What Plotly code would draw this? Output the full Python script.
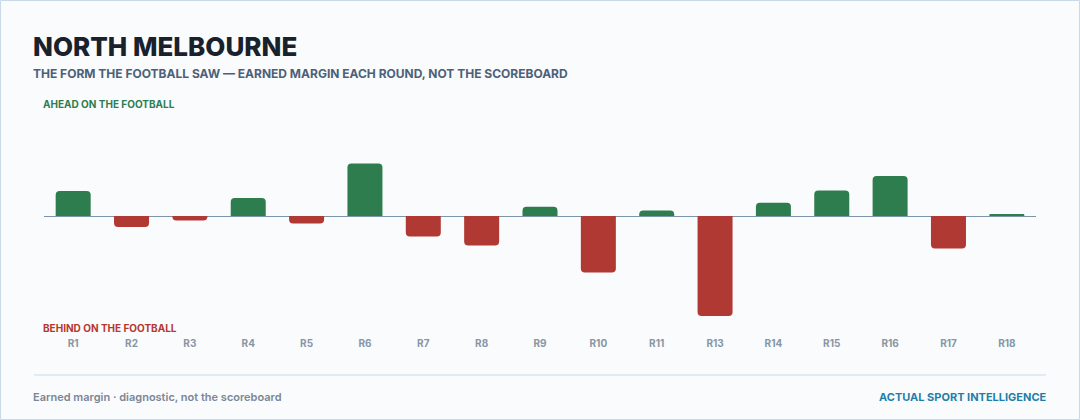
import plotly.graph_objects as go

rounds = ["R1", "R2", "R3", "R4", "R5", "R6", "R7", "R8", "R9", "R10",
          "R11", "R13", "R14", "R15", "R16", "R17", "R18"]
margins = [12.5, -5.5, -2.3, 9.0, -3.8, 26.3, -10.3, -14.8, 4.6, -28.3,
           2.8, -50.0, 6.6, 12.8, 20.0, -16.3, 0.6]

GREEN = "#2e7d4f"
RED = "#b03a33"
colors = [GREEN if v >= 0 else RED for v in margins]

W, H = 1080, 420
PL, PR, PT, PB = 44, 44, 106, 94


def px(x):
    return (x - PL) / (W - PL - PR)


def py(y):
    return (H - PB - y) / (H - PT - PB)


fig = go.Figure()
fig.add_trace(go.Bar(
    x=rounds, y=margins,
    marker=dict(color=colors, line=dict(width=0), cornerradius=4),
    hoverinfo="skip",
))

FONT = "Inter, 'Noto Sans', sans-serif"


def ann(text, x, y, size, color, weight=700, xanchor="left"):
    fig.add_annotation(text=text, x=px(x), y=py(y), xref="paper", yref="paper",
                       xanchor=xanchor, yanchor="middle", showarrow=False,
                       borderpad=0, borderwidth=0,
                       font=dict(family=FONT, size=size, color=color, weight=weight))


ann("NORTH MELBOURNE", 33, 46, 26, "#18212c", 800)
ann("THE FORM THE FOOTBALL SAW — EARNED MARGIN EACH ROUND, NOT THE SCOREBOARD",
    33, 73.5, 12, "#4b6178", 700)
ann("AHEAD ON THE FOOTBALL", 43, 104, 10, "#2e7d4f", 700)
ann("BEHIND ON THE FOOTBALL", 43, 328, 10, "#b7372f", 700)
ann("Earned margin · diagnostic, not the scoreboard", 33, 397, 11, "#7a8796", 600)
ann("ACTUAL SPORT INTELLIGENCE", 1047, 397, 11, "#1f7fa8", 700, xanchor="right")

# footer rule
fig.add_shape(type="line", xref="paper", yref="paper",
              x0=px(34), x1=px(1046), y0=py(375), y1=py(375),
              line=dict(color="#c9dbe8", width=1))
# card border
fig.add_shape(type="rect", xref="paper", yref="paper",
              x0=px(0.5), x1=px(1079.5), y0=py(0.5), y1=py(419.5),
              line=dict(color="#c9d9e8", width=1), layer="below")

fig.update_layout(
    width=W, height=H,
    margin=dict(l=PL, r=PR, t=PT, b=PB),
    paper_bgcolor="#fafbfd",
    plot_bgcolor="rgba(0,0,0,0)",
    showlegend=False,
    bargap=0.4,
    font=dict(family=FONT),
    xaxis=dict(
        showgrid=False, zeroline=False, showline=False, ticks="",
        tickfont=dict(family=FONT, size=10, color="#8796a5", weight=700),
        ticklabelstandoff=10, fixedrange=True,
    ),
    yaxis=dict(
        range=[-55, 55], showgrid=False, showticklabels=False,
        zeroline=True, zerolinecolor="#7d95a9", zerolinewidth=1.3,
        fixedrange=True,
    ),
)

fig.write_html("out.html", config={"displayModeBar": False})
